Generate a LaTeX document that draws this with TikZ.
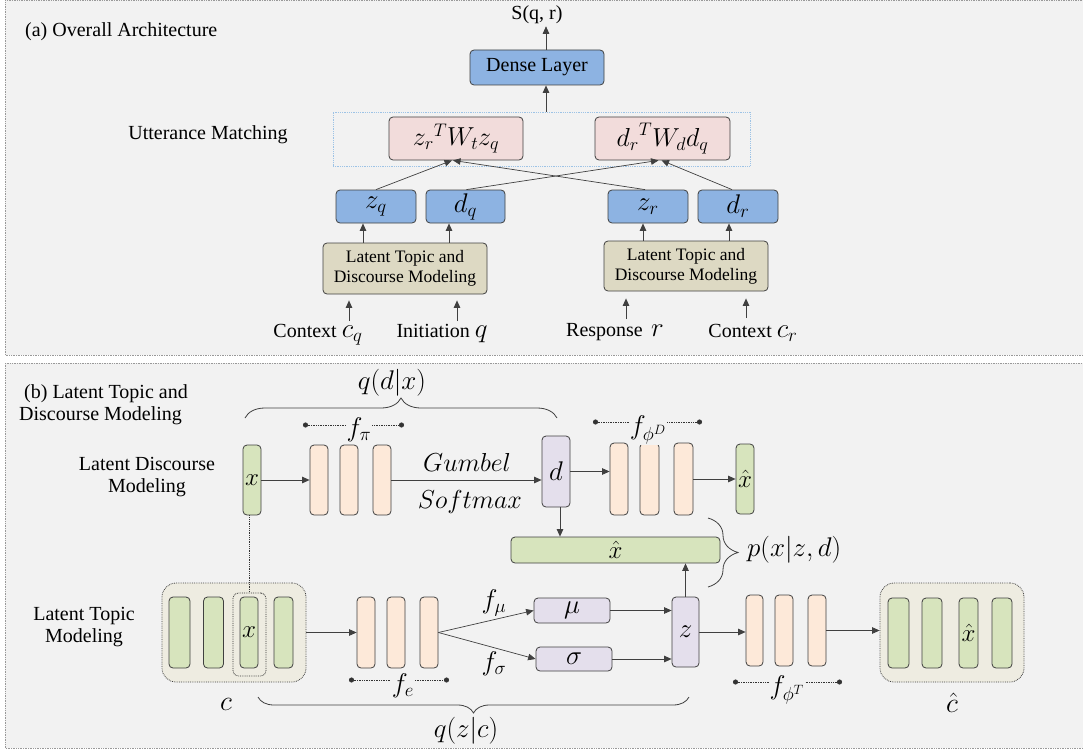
\RequirePackage{fix-cm}
\documentclass[tikz,border=0pt]{standalone}
\usepackage{fontspec}
\setmainfont{Liberation Serif}
\usetikzlibrary{arrows.meta,decorations.pathreplacing,calc}
\definecolor{panel}{HTML}{F2F2F2}
\definecolor{bluebox}{HTML}{8DB3E2}
\definecolor{pinkbox}{HTML}{F2DCDB}
\definecolor{tanbox}{HTML}{DDD9C3}
\definecolor{greenbox}{HTML}{D7E4BD}
\definecolor{peachbox}{HTML}{FDE9D9}
\definecolor{lavbox}{HTML}{E4DFEC}
\definecolor{contbox}{HTML}{EEECE1}
\definecolor{matchline}{HTML}{9DC3E6}
\newcommand{\fsz}[2]{\fontsize{#1}{#2}\selectfont}
\begin{document}
\begin{tikzpicture}[x=1pt,y=-1pt,
  every node/.style={font=\fsz{20}{22}, inner sep=1pt},
  box/.style={draw=black!75, line width=0.8pt, rounded corners=4pt, inner sep=0pt},
  wh/.style 2 args={minimum width=#1, minimum height=#2},
  bluen/.style={box, fill=bluebox},
  pinkn/.style={box, fill=pinkbox},
  tann/.style={box, fill=tanbox},
  greenn/.style={box, fill=greenbox},
  peachn/.style={box, fill=peachbox},
  lavn/.style={box, fill=lavbox},
  cont/.style={draw=black!75, densely dotted, line width=0.8pt, fill=contbox, rounded corners=14pt, inner sep=0pt},
  mathf/.style={font=\fsz{27}{30}},
  arr/.style={-{Triangle[length=7.5pt,width=6.5pt]}, line width=0.7pt, draw=black!75},
  fbar/.style={{Circle[length=5pt]}-{Circle[length=5pt]}, densely dotted, line width=0.7pt, draw=black!80},
  lbl/.style={fill=panel, inner sep=1pt, font=\fsz{27}{30}},
  brc/.style={decorate, decoration={brace, amplitude=#1}, line width=0.8pt, draw=black!75},
  brcm/.style={decorate, decoration={brace, mirror, amplitude=#1}, line width=0.8pt, draw=black!75},
  pborder/.style={draw=black!40, densely dotted, line width=0.7pt, fill=panel},
]
\useasboundingbox (0,0) rectangle (1083,749);
\fill[white] (0,0) rectangle (1083,749);
\draw[pborder] (5,0.5) rectangle (1090,355);
\draw[pborder] (5,363) rectangle (1090,748);

% ---------- Panel (a) ----------
\node[anchor=west] (ta) at (24,32) {(a) Overall Architecture};
\node[inner sep=2pt] (S) at (537,15) {S(q, r)};
\node[bluen, wh={134}{35}] (dense) at (537,67.5) {Dense Layer};
\node[draw=matchline, densely dotted, line width=0.8pt, wh={417}{54}, inner sep=0pt] (match) at (541.5,139) {};
\node (um) at (208,135) {Utterance Matching};
\node[pinkn, wh={134}{43}, font=\fsz{26}{30}] (zt) at (456,138.5) {${z_r}^{T}W_t z_q$};
\node[pinkn, wh={135}{43}, font=\fsz{26}{30}] (dt) at (662.5,138.5) {${d_r}^{T}W_d d_q$};
\node[bluen, wh={80}{33}, mathf] (zq) at (376,206.5) {$z_q$};
\node[bluen, wh={79}{33}, mathf] (dq) at (465.5,206.5) {$d_q$};
\node[bluen, wh={80}{33}, mathf] (zr) at (648,206.5) {$z_r$};
\node[bluen, wh={80}{33}, mathf] (dr) at (738,206.5) {$d_r$};
\node[tann, wh={164}{51}, align=center, font=\fsz{17.5}{20}] (ltl) at (405,268.5) {Latent Topic and\\Discourse Modeling};
\node[tann, wh={164}{50}, align=center, font=\fsz{17.5}{20}] (ltr) at (686,266) {Latent Topic and\\Discourse Modeling};

\draw[arr] ([xshift=9]dense.north) -- ([xshift=9]dense.north |- S.south);
\draw[arr] ([xshift=9]dense.south |- match.north) -- ([xshift=9]dense.south);
\draw[arr] (zq.north) -- ([xshift=-4]zt.south);
\draw[arr] ([xshift=-3]zr.north) -- ([xshift=-3]zt.south);
\draw[arr] ([xshift=1]dq.north) -- ([xshift=-4]dt.south);
\draw[arr] ([xshift=-6]dr.north) -- ([xshift=-1]dt.south);
\draw[arr] ([xshift=-42]ltl.north) -- ([xshift=-42]ltl.north |- zq.south);
\draw[arr] ([xshift=44]ltl.north) -- ([xshift=44]ltl.north |- dq.south);
\draw[arr] ([xshift=-43]ltr.north) -- ([xshift=-43]ltr.north |- zr.south);
\draw[arr] ([xshift=43]ltr.north) -- ([xshift=43]ltr.north |- dr.south);

\node (cq) at (318,335) {Context {\fsz{27}{30}$c_q$}};
\node (iq) at (442,334) {Initiation {\fsz{27}{30}$q$}};
\node (rr) at (615,332) {Response\, {\fsz{27}{30}$r$}};
\node (cr) at (753,333) {Context {\fsz{27}{30}$c_r$}};
\coordinate (a1) at (349,321);
\coordinate (a2) at (457,321);
\coordinate (a3) at (626,319);
\coordinate (a4) at (746,318);
\draw[arr, shorten >=6pt] (a1) -- (a1 |- ltl.south);
\draw[arr, shorten >=6pt] (a2) -- (a2 |- ltl.south);
\draw[arr, shorten >=7pt] (a3) -- (a3 |- ltr.south);
\draw[arr, shorten >=7pt] (a4) -- (a4 |- ltr.south);

% ---------- Panel (b) ----------
\node[anchor=west, align=left] (tb) at (18,405) {\hspace*{5pt}(b) Latent Topic and\\Discourse Modeling};
\node[align=center] (ldm) at (147,477) {Latent Discourse\\Modeling};
\node[align=center] (ltm) at (84,627) {Latent Topic\\Modeling};

% discourse row
\node[greenn, wh={18}{70}, font=\fsz{25}{28}] (xb) at (252,480) {$x$};
\node[peachn, wh={18}{70}] (p1) at (319,480) {};
\node[peachn, wh={18}{70}] (p2) at (349,480) {};
\node[peachn, wh={18}{70}] (p3) at (382,480) {};
\draw[arr] (xb.east) -- (p1.west);
\coordinate (fpiL) at (303,425);
\coordinate (fpiR) at (404,425);
\draw[fbar] (fpiL) -- (fpiR);
\node[lbl] (fpi) at (359,430) {$f_\pi$};

\node[lavn, wh={28}{71}, mathf] (d) at (556,471.5) {$d$};
\draw[arr] (p3.east) -- (p3.east -| d.west);
\node[font=\fsz{26}{30}] (gum) at (467,462) {$Gumbel$};
\node[font=\fsz{26}{30}] (soft) at (470,502) {$Softmax$};

\node[peachn, wh={18}{72}] (pd1) at (619,479) {};
\node[peachn, wh={19}{72}] (pd2) at (649.5,479) {};
\node[peachn, wh={19}{72}] (pd3) at (683.5,479) {};
\node[greenn, wh={18}{70}, font=\fsz{25}{28}] (xh1) at (745,479) {$\hat{x}$};
\draw[arr] (d.east) -- (d.east -| pd1.west);
\draw[arr] (pd3.east) -- (pd3.east -| xh1.west);
\coordinate (fdL) at (593,422);
\coordinate (fdR) at (702,422);
\draw[fbar] (fdL) -- (fdR);
\node[lbl] (fphid) at (648,430) {$f_{\phi^D}$};

\node[greenn, wh={209}{26}, font=\fsz{25}{28}] (xw) at (615.5,550) {$\hat{x}$};
\draw[arr] ([xshift=4]d.south) -- ([xshift=4]d.south |- xw.north);

% braces
\coordinate (bq1) at (245,418);
\coordinate (bq2) at (557,418);
\draw[brc=20] (bq1) -- (bq2);
\node[font=\fsz{27}{30}] (qdx) at (392,383) {$q(d|x)$};
\coordinate (bp1) at (708,518);
\coordinate (bp2) at (708,587);
\draw[brc=30] (bp1) -- (bp2);
\node[font=\fsz{27}{30}, anchor=west] (pxzd) at (746,550) {$p(x|z,d)$};

% topic row
\node[cont, wh={144}{99}] (c) at (234,632.5) {};
\node[greenn, wh={21}{71}] (c1) at (179.5,632.5) {};
\node[greenn, wh={20}{71}] (c2) at (213.5,632.5) {};
\node[greenn, wh={18}{71}, font=\fsz{25}{28}] (c3) at (249,632.5) {$x$};
\node[greenn, wh={19}{71}] (c4) at (283.5,632.5) {};
\node[draw=black!80, densely dotted, line width=0.8pt, rounded corners=5pt, wh={33}{83}, inner sep=0pt] (xsel) at (249.5,634.5) {};
\draw[densely dotted, line width=0.8pt, draw=black!80] (xsel.north |- xb.south) -- (xsel.north);
\node[font=\fsz{28}{30}] (clab) at (226,704) {$c$};

\node[peachn, wh={18}{71}] (pe1) at (366,632.5) {};
\node[peachn, wh={18}{71}] (pe2) at (396,632.5) {};
\node[peachn, wh={18}{71}] (pe3) at (429,632.5) {};
\draw[arr] (c.east) -- (c.east -| pe1.west);
\coordinate (feL) at (349,680);
\coordinate (feR) at (449,680);
\draw[fbar] (feL) -- (feR);
\node[lbl] (fe) at (403,686) {$f_e$};

\node[lavn, wh={76}{25}, mathf] (mu) at (572,610.5) {$\mu$};
\node[lavn, wh={76}{24}, mathf] (sig) at (574,659) {$\sigma$};
\draw[arr] (pe3.east) -- (mu.west);
\draw[arr] (pe3.east) -- (sig.west);
\node[mathf] (fmu) at (494,603) {$f_\mu$};
\node[mathf] (fsig) at (494,664) {$f_\sigma$};

\node[lavn, wh={27}{70}, mathf] (z) at (685.5,632) {$z$};
\draw[arr] (mu.east) -- (mu.east -| z.west);
\draw[arr] (sig.east) -- (sig.east -| z.west);
\draw[arr] (z.north) -- (z.north |- xw.south);

\node[peachn, wh={17}{71}] (pt1) at (754.5,630.5) {};
\node[peachn, wh={18}{71}] (pt2) at (784,630.5) {};
\node[peachn, wh={18}{71}] (pt3) at (817,630.5) {};
\draw[arr] (z.east) -- (z.east -| pt1.west);
\coordinate (ftL) at (733,682);
\coordinate (ftR) at (842,682);
\draw[fbar] (ftL) -- (ftR);
\node[lbl] (fphit) at (787,690) {$f_{\phi^T}$};

\node[cont, wh={144}{99}] (ch) at (952,632.5) {};
\node[greenn, wh={21}{70}] (h1) at (898.5,633) {};
\node[greenn, wh={20}{70}] (h2) at (932,633) {};
\node[greenn, wh={19}{70}, font=\fsz{25}{28}] (h3) at (968.5,633) {$\hat{x}$};
\node[greenn, wh={20}{70}] (h4) at (1002,633) {};
\draw[arr] (pt3.east) -- (pt3.east -| ch.west);
\node[font=\fsz{28}{30}] (chlab) at (952,703) {$\hat{c}$};

\coordinate (bz1) at (258,697);
\coordinate (bz2) at (689,697);
\draw[brcm=16] (bz1) -- (bz2);
\node[font=\fsz{27}{30}] (qzc) at (466,731) {$q(z|c)$};
\end{tikzpicture}
\end{document}
